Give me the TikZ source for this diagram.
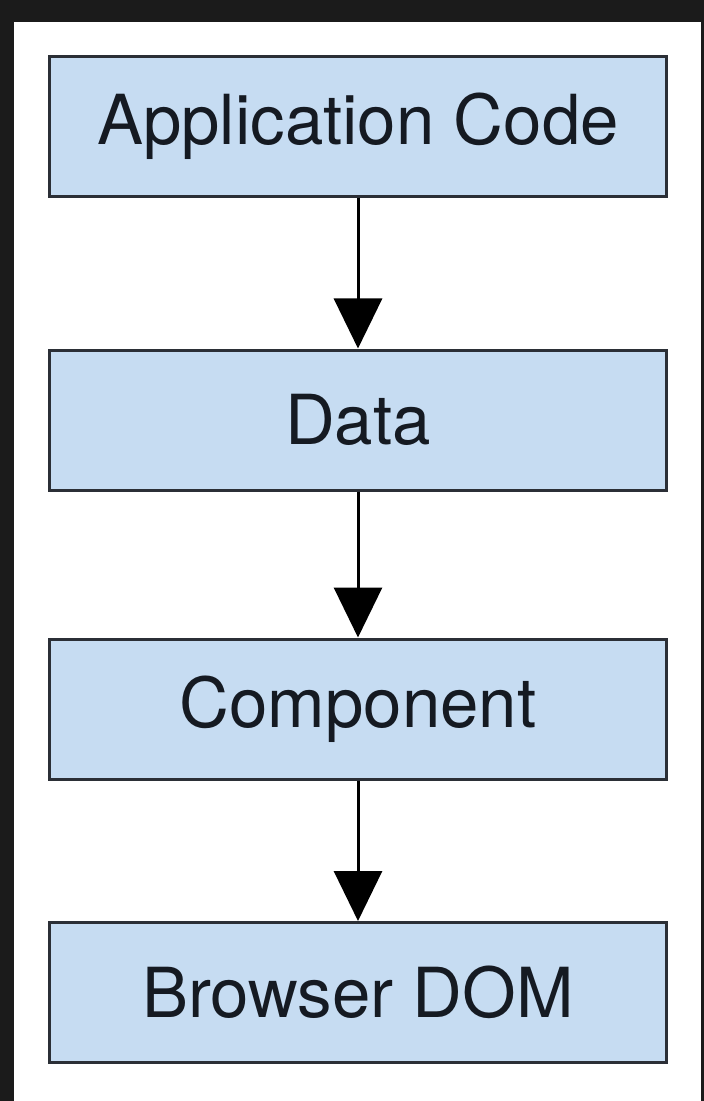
\documentclass[tikz,border=0pt]{standalone}
\usepackage{fontspec}
\setmainfont{TeX Gyre Heros}
\usetikzlibrary{arrows.meta}
\definecolor{frame}{HTML}{1B1B1B}
\definecolor{boxfill}{HTML}{C6DCF2}
\definecolor{boxline}{HTML}{2B2F36}
\definecolor{ink}{HTML}{151A22}
\begin{document}
\begin{tikzpicture}[x=0.5pt,y=-0.5pt,
  stage/.style={draw=boxline, fill=boxfill, line width=1.5pt,
    minimum width=308.5pt, minimum height=70pt, inner sep=0pt,
    text=ink, font=\fontsize{34.5}{40}\selectfont},
  flow/.style={draw=black, line width=1.5pt,
    -{Triangle[width=24pt,length=25pt]}}]
  % dark surround and white sheet
  \fill[frame] (0,0) rectangle (704,1101);
  \fill[white] (14,22) rectangle (701,1101);
  \useasboundingbox (0,0) rectangle (704,1101);

  \node[stage] (app)  at (358,126.5) {Application Code};
  \node[stage] (data) at (358,420)   {Data};
  \node[stage] (comp) at (358,709)   {Component};
  \node[stage] (dom)  at (358,992.5) {Browser DOM};

  \draw[flow] (app.south)  -- (data.north);
  \draw[flow] (data.south) -- (comp.north);
  \draw[flow] (comp.south) -- (dom.north);
\end{tikzpicture}
\end{document}
